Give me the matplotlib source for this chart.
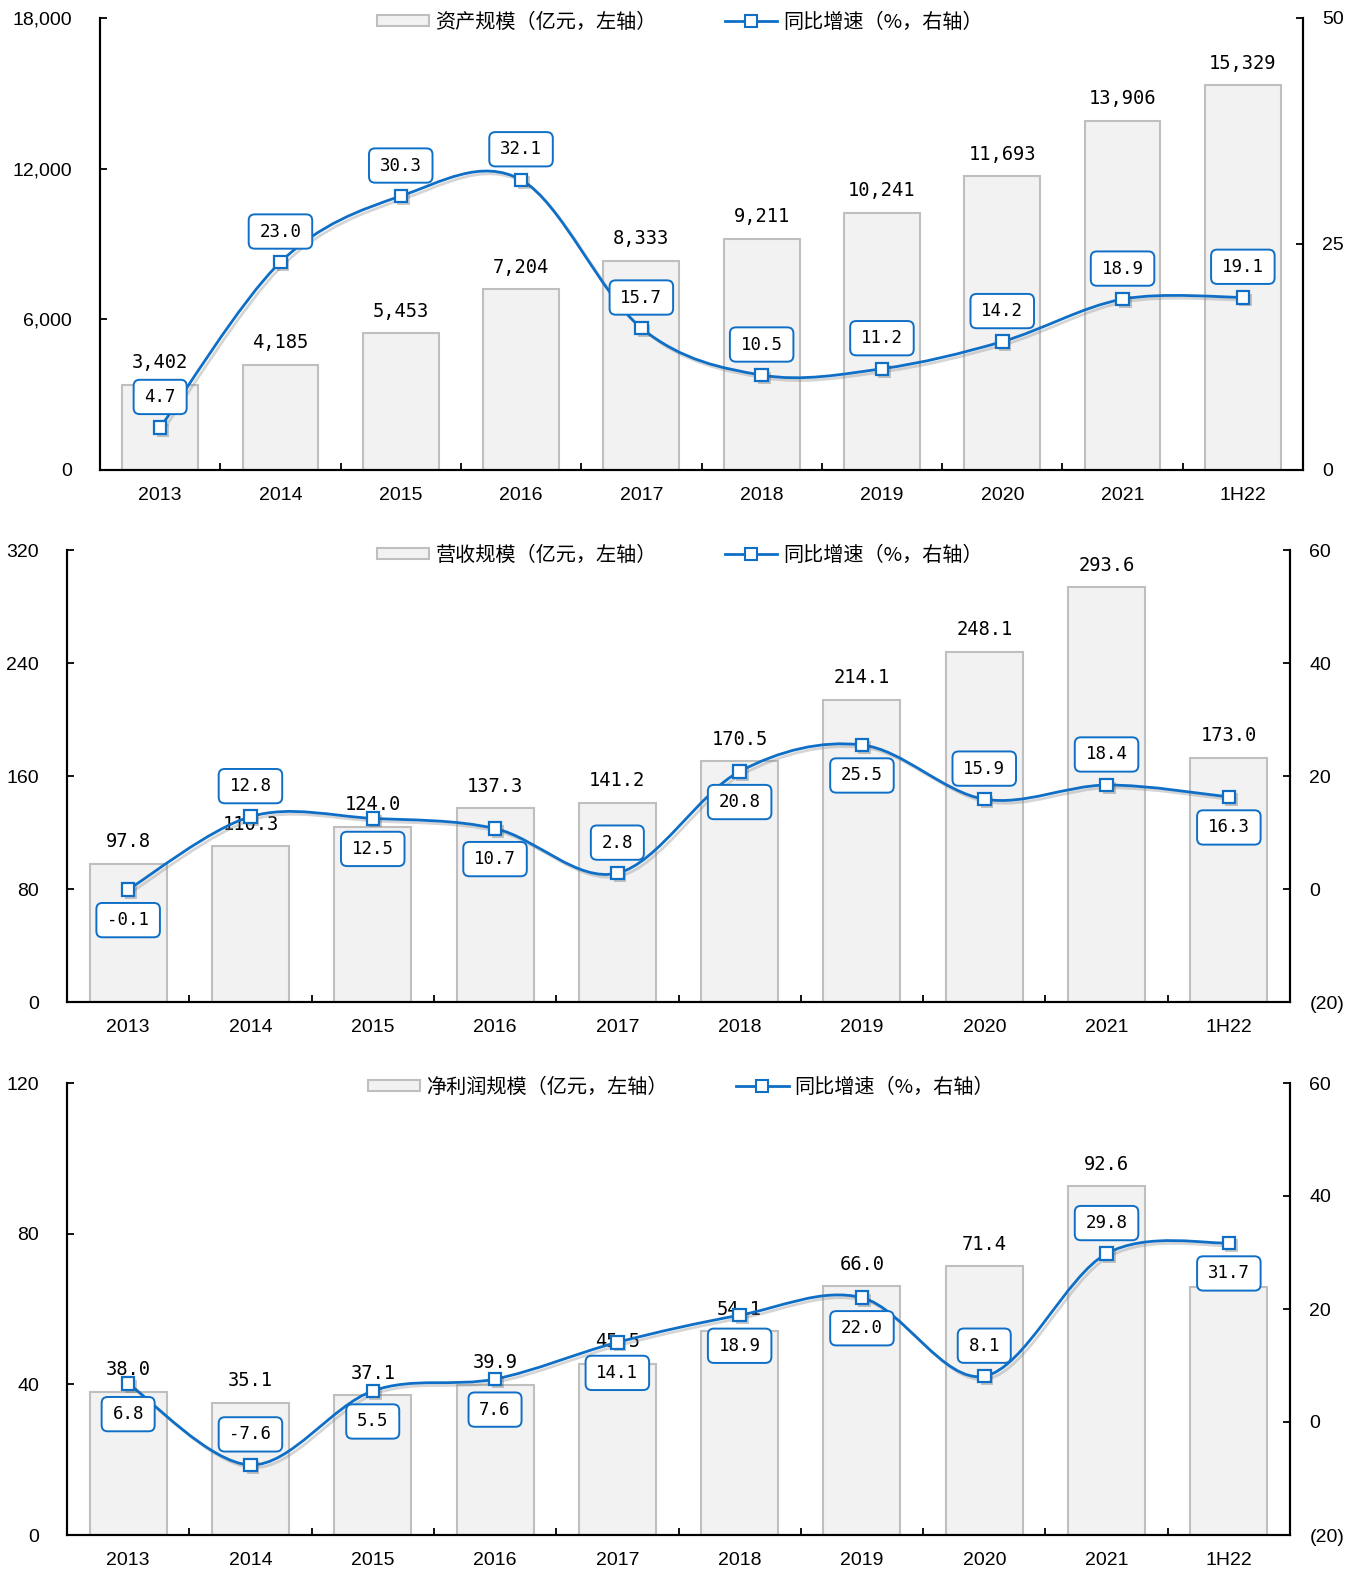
"""Asset / revenue / net profit scale with YoY growth, three stacked panels."""

import matplotlib
matplotlib.use("Agg")
import matplotlib.pyplot as plt
import matplotlib.patheffects as pe
from matplotlib.lines import Line2D
from matplotlib.patches import BoxStyle, Patch, PathPatch
from matplotlib.path import Path
from matplotlib.ticker import FuncFormatter


# ── data ──────────────────────────────────────────────────────────────────

years = ["2013", "2014", "2015", "2016", "2017", "2018", "2019", "2020", "2021", "1H22"]

asset_scale = [3402, 4185, 5453, 7204, 8333, 9211, 10241, 11693, 13906, 15329]
asset_growth = [4.7, 23.0, 30.3, 32.1, 15.7, 10.5, 11.2, 14.2, 18.9, 19.1]

revenue_scale = [97.8, 110.3, 124.0, 137.3, 141.2, 170.5, 214.1, 248.1, 293.6, 173.0]
revenue_growth = [-0.1, 12.8, 12.5, 10.7, 2.8, 20.8, 25.5, 15.9, 18.4, 16.3]

profit_scale = [38.0, 35.1, 37.1, 39.9, 45.5, 54.1, 66.0, 71.4, 92.6, 65.9]
profit_growth = [6.8, -7.6, 5.5, 7.6, 14.1, 18.9, 22.0, 8.1, 29.8, 31.7]

legend_bar = ["资产规模（亿元，左轴）", "营收规模（亿元，左轴）", "净利润规模（亿元，左轴）"]
legend_line = "同比增速（%，右轴）"


# ── style ─────────────────────────────────────────────────────────────────

BLUE = "#0f6fc6"
BAR_FACE = "#f2f2f2"
BAR_EDGE = "#bfbfbf"
CJK = ["Noto Sans CJK SC", "DejaVu Sans"]
TICK_FONT = "Liberation Sans"
NUM_FONT = "DejaVu Sans Mono"

plt.rcParams["font.family"] = CJK


def wide_round(x0, y0, width, height, mutation_size):
    """Rounded box with more horizontal than vertical padding."""
    padx = 0.62 * mutation_size
    pady = 0.47 * mutation_size
    return BoxStyle.Round(pad=0, rounding_size=0.35)(
        x0 - padx, y0 - pady, width + 2 * padx, height + 2 * pady, mutation_size)


def smooth_path(xs, ys):
    """Cubic Bezier through the points (Catmull-Rom style control points)."""
    pts = list(zip(xs, ys))
    ext = [pts[0]] + pts + [pts[-1]]
    verts = [pts[0]]
    codes = [Path.MOVETO]
    for i in range(len(pts) - 1):
        p0, p1, p2, p3 = ext[i], ext[i + 1], ext[i + 2], ext[i + 3]
        c1 = (p1[0] + (p2[0] - p0[0]) / 6, p1[1] + (p2[1] - p0[1]) / 6)
        c2 = (p2[0] - (p3[0] - p1[0]) / 6, p2[1] - (p3[1] - p1[1]) / 6)
        verts += [c1, c2, p2]
        codes += [Path.CURVE4] * 3
    return Path(verts, codes)


def right_fmt(v, _):
    return f"({abs(int(v))})" if v < 0 else f"{int(v)}"


# ── plotting ──────────────────────────────────────────────────────────────

def draw_panel(fig, rect, bars, growth, sides, left_lim, left_ticks, left_fmt,
               right_lim, right_ticks, bar_fmt, bar_label, legend_xy):
    ax = fig.add_axes(rect)
    x = list(range(len(years)))

    ax.bar(x, bars, width=0.63, color=BAR_FACE, edgecolor=BAR_EDGE, linewidth=1.5, zorder=2)
    for xi, v in zip(x, bars):
        ax.annotate(bar_fmt(v), (xi, v), xytext=(0, 9), textcoords="offset points",
                    ha="center", va="bottom", fontsize=13.5, family=NUM_FONT, zorder=3)

    ax.set_xlim(-0.5, len(years) - 0.5)
    ax.set_ylim(*left_lim)
    ax.set_yticks(left_ticks)
    ax.yaxis.set_major_formatter(FuncFormatter(left_fmt))
    ax.set_xticks(x)
    ax.set_xticklabels(years, family=TICK_FONT, fontsize=14)
    ax.set_xticks([i + 0.5 for i in x[:-1]], minor=True)
    ax.tick_params(axis="x", which="major", length=0, pad=12)
    ax.tick_params(axis="x", which="minor", direction="in", length=5, width=1.3)
    ax.tick_params(axis="y", direction="in", length=5, width=1.3, pad=20, labelsize=14)
    for lab in ax.get_yticklabels():
        lab.set_family(TICK_FONT)

    ax2 = ax.twinx()
    ax2.set_ylim(*right_lim)
    ax2.set_yticks(right_ticks)
    ax2.yaxis.set_major_formatter(FuncFormatter(right_fmt))
    ax2.tick_params(axis="y", direction="in", length=5, width=1.3, pad=14, labelsize=14)
    for lab in ax2.get_yticklabels():
        lab.set_family(TICK_FONT)

    for a in (ax, ax2):
        a.spines["top"].set_visible(False)
        for s in ("left", "right", "bottom"):
            a.spines[s].set_linewidth(1.5)

    shadow = pe.SimpleLineShadow(offset=(2, -2), shadow_color="#888888", alpha=0.35)
    curve = PathPatch(smooth_path(x, growth), facecolor="none", edgecolor=BLUE,
                      linewidth=2, zorder=3, path_effects=[shadow, pe.Normal()])
    ax2.add_patch(curve)
    ax2.plot(x, growth, linestyle="none", marker="s", markersize=9,
             markerfacecolor="white", markeredgecolor=BLUE, markeredgewidth=1.6, zorder=4,
             path_effects=[pe.SimplePatchShadow(offset=(2, -2), alpha=0.3), pe.Normal()])

    for xi, v, side in zip(x, growth, sides):
        ax2.annotate(f"{v:.1f}", (xi, v), xytext=(0, 22 * side), textcoords="offset points",
                     ha="center", va="center", fontsize=12.5, family=NUM_FONT, zorder=5,
                     bbox=dict(boxstyle=wide_round, facecolor="white", edgecolor=BLUE,
                               linewidth=1.4))

    handles = [
        Patch(facecolor=BAR_FACE, edgecolor=BAR_EDGE, linewidth=1.5),
        Line2D([], [], color=BLUE, linewidth=2, marker="s", markersize=8,
               markerfacecolor="white", markeredgecolor=BLUE, markeredgewidth=1.5),
    ]
    fig.legend(handles, [bar_label, legend_line], loc="center", ncol=2, frameon=False,
               bbox_to_anchor=legend_xy, bbox_transform=fig.transFigure,
               fontsize=14.5, handlelength=2.6, handleheight=0.5, columnspacing=3.4,
               handletextpad=0.3)
    return ax, ax2


def main():
    fig = plt.figure(figsize=(13.7, 15.8), dpi=100)
    H = 1580.0
    W = 1370.0

    draw_panel(fig, [100 / W, 1 - 470 / H, 1203 / W, 452 / H],
               asset_scale, asset_growth, [1] * 10,
               (0, 18000), [0, 6000, 12000, 18000], lambda v, _: f"{int(v):,}",
               (0, 50), [0, 25, 50], lambda v: f"{v:,}", legend_bar[0],
               (680 / W, 1 - 22 / H))

    draw_panel(fig, [67 / W, 1 - 1002 / H, 1223 / W, 452 / H],
               revenue_scale, revenue_growth, [-1, 1, -1, -1, 1, -1, -1, 1, 1, -1],
               (0, 320), [0, 80, 160, 240, 320], lambda v, _: f"{int(v)}",
               (-20, 60), [-20, 0, 20, 40, 60], lambda v: f"{v:.1f}", legend_bar[1],
               (680 / W, 1 - 555 / H))

    draw_panel(fig, [67 / W, 1 - 1535 / H, 1223 / W, 452 / H],
               profit_scale, profit_growth, [-1, 1, -1, -1, -1, -1, -1, 1, 1, -1],
               (0, 120), [0, 40, 80, 120], lambda v, _: f"{int(v)}",
               (-20, 60), [-20, 0, 20, 40, 60], lambda v: f"{v:.1f}", legend_bar[2],
               (681 / W, 1 - 1087 / H))

    fig.savefig("out.png", dpi=100)
    plt.close(fig)


if __name__ == "__main__":
    main()
